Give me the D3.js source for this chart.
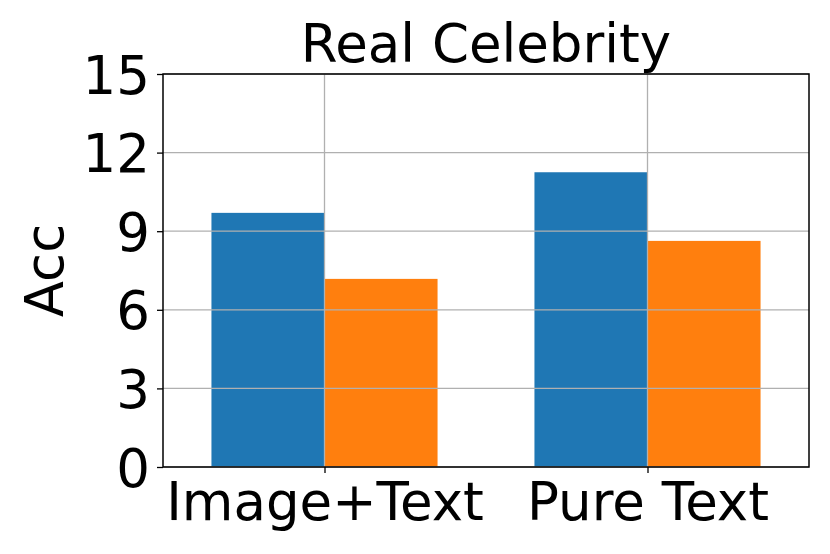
<!DOCTYPE html>
<html>
<head>
<meta charset="utf-8">
<script src="https://cdn.jsdelivr.net/npm/d3@7"></script>
<style>
  body { margin: 0; background: #fff; }
  svg text { font-family: "DejaVu Sans", sans-serif; fill: #000; }
</style>
</head>
<body>
<svg id="chart" width="830" height="554"></svg>
<script>
// chart data
var categories = ["Image+Text", "Pure Text"];
var seriesA = [9.7, 11.25];   // blue
var seriesB = [7.18, 8.63];   // orange
var yTicks = [0, 3, 6, 9, 12, 15];
var colors = ["#1f77b4", "#ff7f0e"];
var title = "Real Celebrity";
var yLabel = "Acc";

function drawChart() {
    var plotLeft = 163, plotRight = 809, plotTop = 74, plotBottom = 467;
    var barWidth = 0.35;
    var fontSize = "53px";

    var svg = d3.select("#chart");

    var x = d3.scaleLinear().domain([-0.5, categories.length - 0.5]).range([plotLeft, plotRight]);
    var y = d3.scaleLinear().domain([0, 15]).range([plotBottom, plotTop]);

    var rows = categories.map(function (c, i) {
        return { cat: c, i: i, vals: [seriesA[i], seriesB[i]] };
    });

    //Bars
    var groups = svg.append("g").selectAll("g")
        .data(rows)
        .enter().append("g");

    groups.selectAll("rect")
        .data(function (d) {
            return d.vals.map(function (v, k) { return { i: d.i, k: k, v: v }; });
        })
        .enter().append("rect")
        .attr("x", function (d) { return x(d.i + (d.k === 0 ? -barWidth : 0)); })
        .attr("y", function (d) { return y(d.v); })
        .attr("width", function (d) { return x(barWidth) - x(0); })
        .attr("height", function (d) { return y(0) - y(d.v); })
        .attr("fill", function (d) { return colors[d.k]; });

    //Grid drawn over the bars
    var grid = svg.append("g").attr("stroke", "#b0b0b0").attr("stroke-width", 1.3);
    grid.selectAll("line.h")
        .data(yTicks)
        .enter().append("line")
        .attr("x1", plotLeft).attr("x2", plotRight)
        .attr("y1", function (d) { return y(d); })
        .attr("y2", function (d) { return y(d); });
    grid.selectAll("line.v")
        .data(categories)
        .enter().append("line")
        .attr("x1", function (d, i) { return x(i); })
        .attr("x2", function (d, i) { return x(i); })
        .attr("y1", plotTop).attr("y2", plotBottom);

    //Axes
    var yAxis = d3.axisLeft(y).tickValues(yTicks).tickSize(6).tickPadding(7);
    var xAxis = d3.axisBottom(x).tickValues(categories.map(function (c, i) { return i; }))
        .tickFormat(function (d) { return categories[d]; })
        .tickSize(6).tickPadding(8);

    var gy = svg.append("g").attr("transform", "translate(" + plotLeft + ",0)").call(yAxis);
    var gx = svg.append("g").attr("transform", "translate(0," + plotBottom + ")").call(xAxis);

    [gy, gx].forEach(function (g) {
        g.select(".domain").remove();
        g.selectAll(".tick line").attr("stroke", "#000").attr("stroke-width", 1.3);
        g.selectAll(".tick text").style("font-size", fontSize).attr("fill", "#000");
    });
    gy.selectAll(".tick text").attr("dy", "0.36em");
    gx.selectAll(".tick text").attr("dy", "0.74em");

    //Frame
    svg.append("rect")
        .attr("x", plotLeft).attr("y", plotTop)
        .attr("width", plotRight - plotLeft).attr("height", plotBottom - plotTop)
        .attr("fill", "none").attr("stroke", "#000").attr("stroke-width", 1.5);

    //Title and y label
    svg.append("text")
        .attr("x", (plotLeft + plotRight) / 2).attr("y", 62)
        .attr("text-anchor", "middle")
        .style("font-size", fontSize)
        .text(title);

    svg.append("text")
        .attr("transform", "translate(63," + (plotTop + plotBottom) / 2 + ") rotate(-90)")
        .attr("text-anchor", "middle")
        .style("font-size", fontSize)
        .text(yLabel);
}

drawChart();
</script>
</body>
</html>
